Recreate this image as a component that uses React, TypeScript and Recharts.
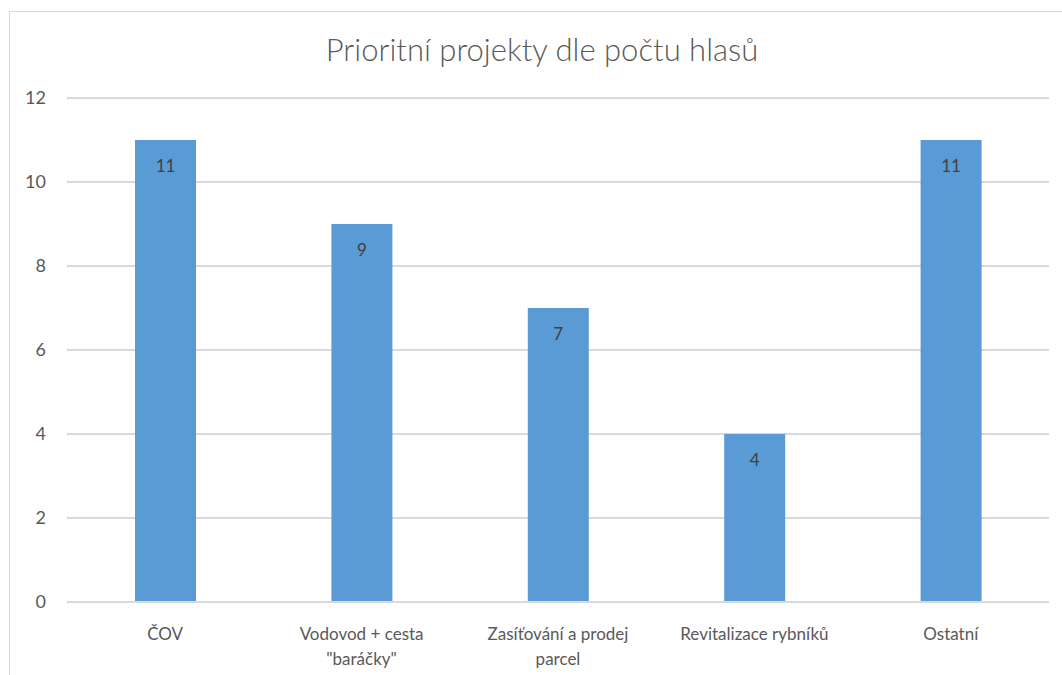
import { Bar, BarChart, CartesianGrid, LabelList, XAxis, YAxis } from 'recharts'

const categories = ['ČOV', 'Vodovod + cesta "baráčky"', 'Zasíťování a prodej parcel', 'Revitalizace rybníků', 'Ostatní']
const votes = [11, 9, 7, 4, 11]
const yTicks = [0, 2, 4, 6, 8, 10, 12]

const data = categories.map((name, i) => ({ name, votes: votes[i] }))

const textColor = '#595959'
const gridColor = '#D9D9D9'
const barColor = '#5B9BD5'

// greedy word wrap, like the spreadsheet label does
function wrap(label: string, max: number) {
  const lines: string[] = []
  let cur = ''
  for (const w of label.split(' ')) {
    const next = cur ? cur + ' ' + w : w
    if (next.length > max && cur) {
      lines.push(cur)
      cur = w
    } else cur = next
  }
  if (cur) lines.push(cur)
  return lines
}

function CategoryTick({ x, y, payload }: any) {
  const lines = wrap(String(payload.value), 20)
  return (
    <text x={x} y={y + 36} textAnchor="middle" fill={textColor} fontSize={17}>
      {lines.map((l, i) => (
        <tspan key={i} x={x} dy={i === 0 ? 0 : 25}>
          {l}
        </tspan>
      ))}
    </text>
  )
}

export default function App() {
  return (
    <div style={{ position: 'relative', width: 1062, height: 675, fontFamily: 'Lato, sans-serif', overflow: 'hidden' }}>
      <style>{'body { margin: 0; }'}</style>
      <div
        style={{
          position: 'absolute',
          left: 9,
          top: 11,
          right: 0,
          bottom: 0,
          borderLeft: `1px solid ${gridColor}`,
          borderTop: `1px solid ${gridColor}`,
        }}
      />
      <div
        style={{
          position: 'absolute',
          left: 42,
          width: 1000,
          top: 31,
          lineHeight: 1.2,
          fontSize: 31,
          fontWeight: 300,
          color: textColor,
          textAlign: 'center',
        }}
      >
        Prioritní projekty dle počtu hlasů
      </div>
      <BarChart width={1062} height={675} data={data} margin={{ top: 98, right: 13, bottom: 0, left: 0 }}>
        <CartesianGrid vertical={false} stroke={gridColor} strokeWidth={2} />
        <XAxis
          dataKey="name"
          height={73}
          axisLine={{ stroke: gridColor, strokeWidth: 2 }}
          tickLine={false}
          tickSize={0}
          tick={<CategoryTick />}
          interval={0}
        />
        <YAxis
          width={67}
          domain={[0, 12]}
          ticks={yTicks}
          axisLine={false}
          tickLine={false}
          tickSize={0}
          tickMargin={21}
          tick={{ fill: textColor, fontSize: 18 }}
        />
        <Bar dataKey="votes" fill={barColor} barSize={61} isAnimationActive={false}>
          <LabelList dataKey="votes" position="insideTop" offset={20} fill="#404040" fontSize={17} />
        </Bar>
      </BarChart>
    </div>
  )
}
